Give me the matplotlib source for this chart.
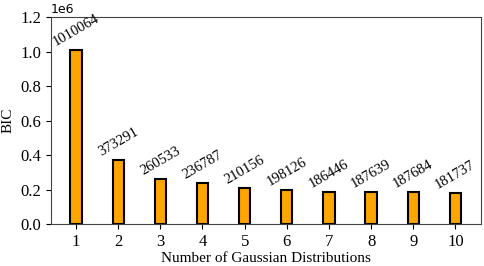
import matplotlib.pyplot as plt

plt.rcParams['font.family'] = ['Liberation Serif', 'DejaVu Serif']

components = [1, 2, 3, 4, 5, 6, 7, 8, 9, 10]
bic = [1010064, 373291, 260533, 236787, 210156, 198126, 186446, 187639, 187684, 181737]
yticks = [0, 0.2e6, 0.4e6, 0.6e6, 0.8e6, 1.0e6, 1.2e6]

fig, ax = plt.subplots(figsize=(4.84, 2.66), dpi=100)
bars = ax.bar(components, bic, width=0.27, color='orange', edgecolor='black', linewidth=1.5)

for x, v in zip(components, bic):
    ax.text(x, v + 8000, str(v), rotation=30, ha='center', va='bottom', fontsize=10.5)

ax.set_xticks(components)
ax.set_yticks(yticks)
ax.set_ylim(0, 1.2e6)
ax.set_xlabel('Number of Gaussian Distributions', fontsize=11, labelpad=2)
ax.set_ylabel('BIC', fontsize=11, labelpad=4)
ax.tick_params(labelsize=12)
ax.yaxis.get_offset_text().set_family('DejaVu Sans')
ax.yaxis.get_offset_text().set_fontsize(9)
for s in ax.spines.values():
    s.set_color('#444444')

fig.subplots_adjust(left=0.105, right=0.993, top=0.935, bottom=0.158)
fig.savefig('out.png')
